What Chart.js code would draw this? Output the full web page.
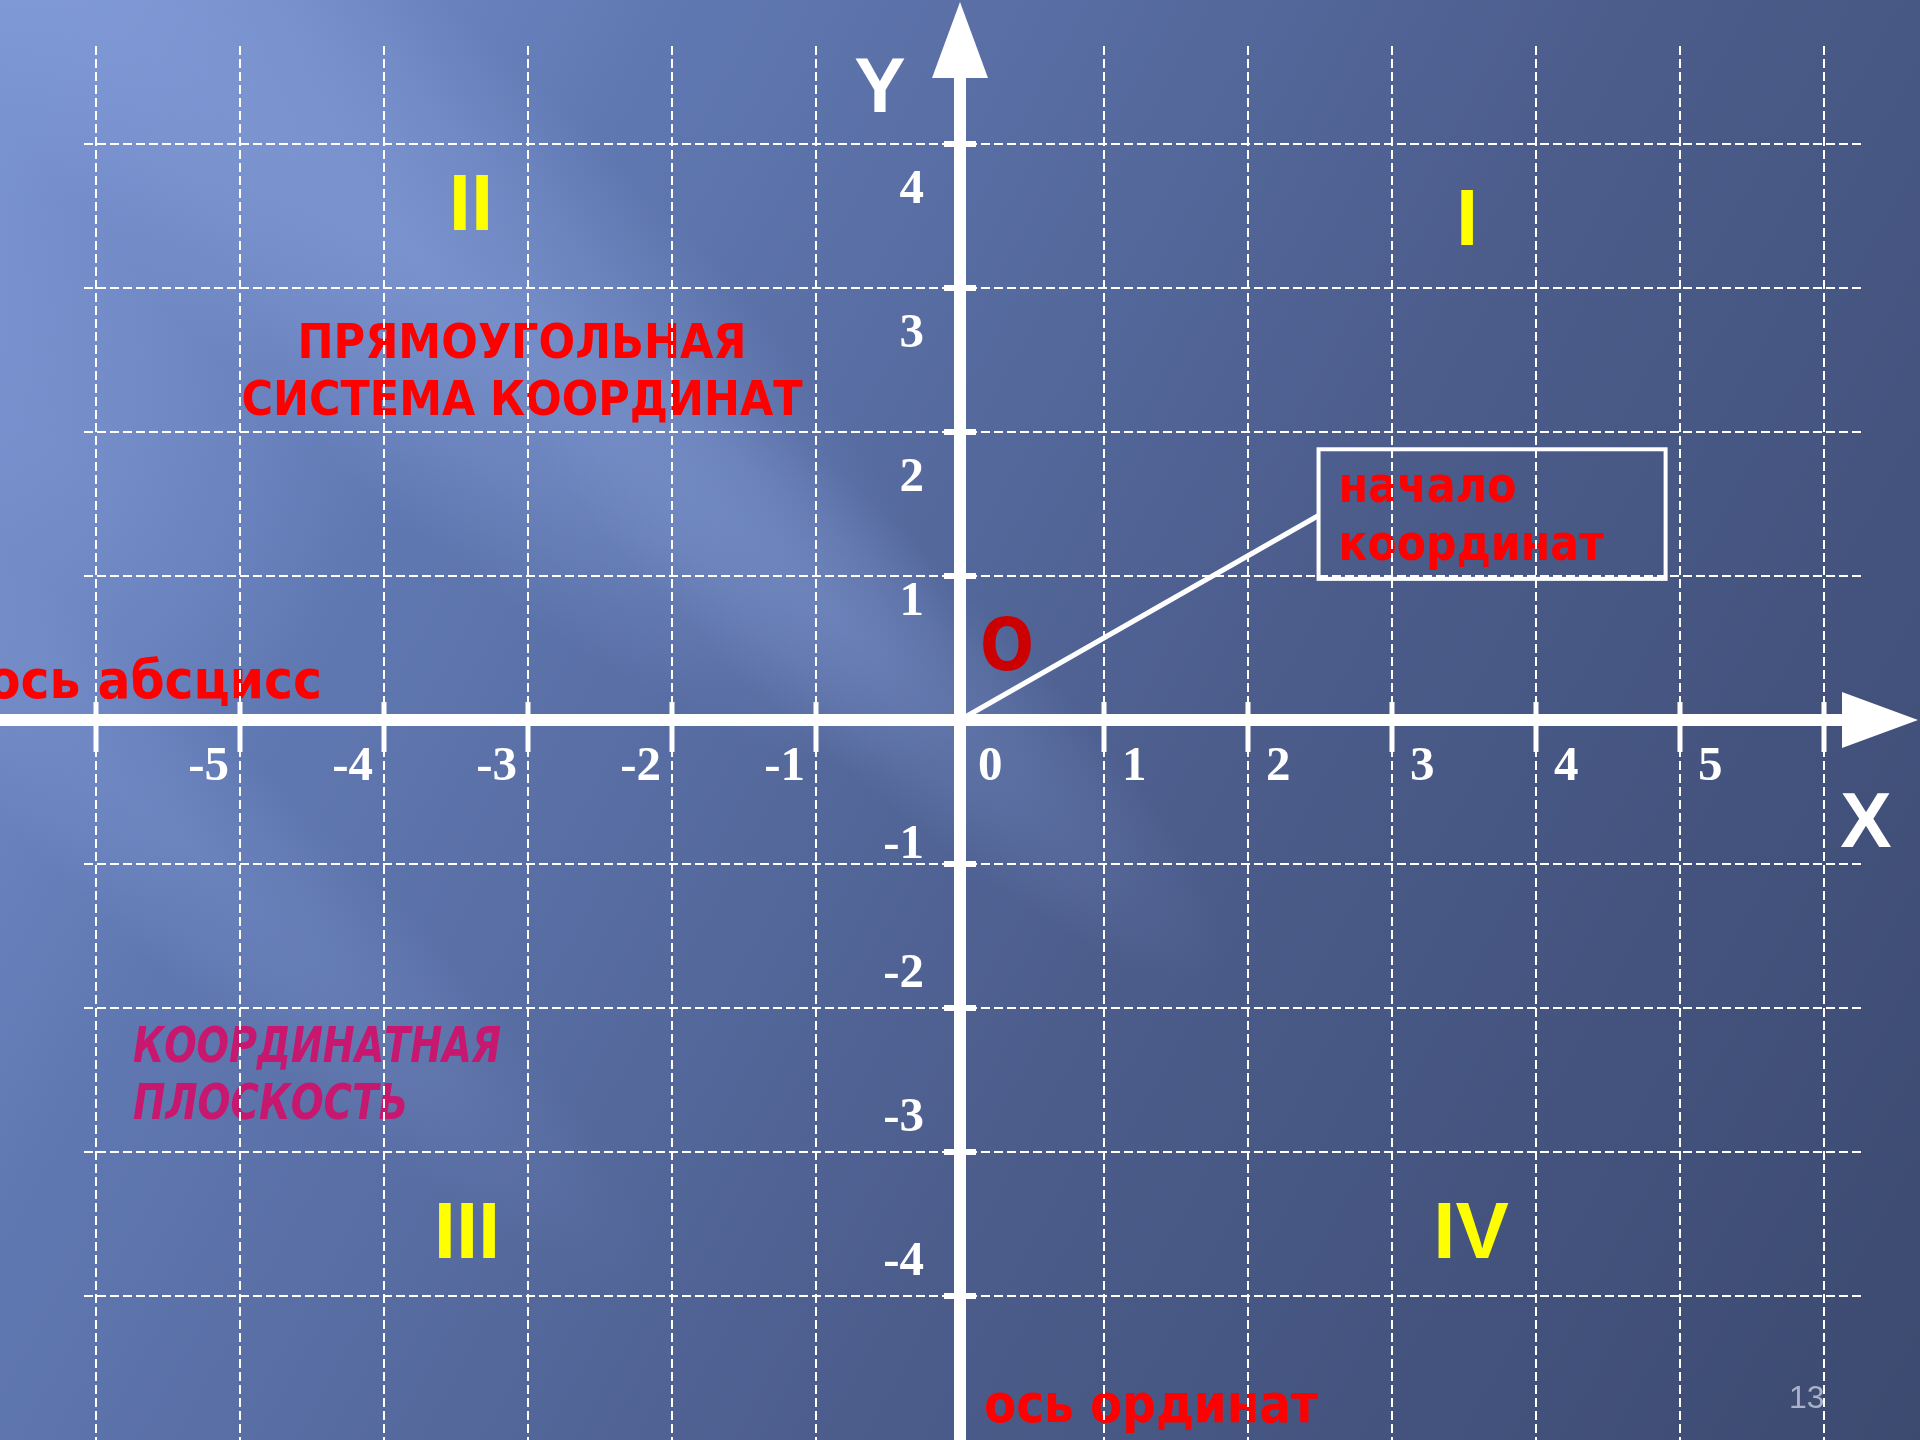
<!DOCTYPE html>
<html>
<head>
<meta charset="utf-8">
<script src="https://cdn.jsdelivr.net/npm/chart.js@4.4.1/dist/chart.umd.min.js"></script>
<style>
html,body{margin:0;padding:0;overflow:hidden;background:#4f6396;}
#wrap{width:1920px;height:1440px;position:relative;}
canvas{display:block;}
</style>
</head>
<body>
<div id="wrap"><canvas id="c" width="1920" height="1440"></canvas></div>
<script>
// ---------- DATA ----------
const xGridValues = [-6, -5, -4, -3, -2, -1, 0, 1, 2, 3, 4, 5, 6];
const yGridValues = [-4, -3, -2, -1, 0, 1, 2, 3, 4];
const xLabelValues = [-5, -4, -3, -2, -1, 0, 1, 2, 3, 4, 5];
const xTickLabels = ['-5', '-4', '-3', '-2', '-1', '0', '1', '2', '3', '4', '5'];
const yLabelValues = [4, 3, 2, 1, -1, -2, -3, -4];
const yTickLabels = ['4', '3', '2', '1', '-1', '-2', '-3', '-4'];
const quadrantNames = ['I', 'II', 'III', 'IV'];
const pointerX = [0, 2.49];
const pointerY = [0, 1.42];
const calloutBoxX = [2.49, 4.9];
const calloutBoxY = [0.98, 1.88];
const titleLines = ['ПРЯМОУГОЛЬНАЯ', 'СИСТЕМА КООРДИНАТ'];
const planeLines = ['КООРДИНАТНАЯ', 'ПЛОСКОСТЬ'];
const originLines = ['начало', 'координат'];
const xAxisName = 'ось абсцисс';
const yAxisName = 'ось ординат';
const slideNumber = '13';

// ---------- LAYOUT ----------
const W = 1920, H = 1440;
const UNIT = 144;            // px per unit
const OX = 960, OY = 720;    // origin in px
const AREA = {left: 84, right: 1862, top: 46, bottom: 1440};
const XMIN = (AREA.left - OX) / UNIT, XMAX = (AREA.right - OX) / UNIT;
const YMAX = (OY - AREA.top) / UNIT, YMIN = (OY - AREA.bottom) / UNIT;
const SANS = '"Liberation Sans", Arial, sans-serif';
const HEAVY = '"DejaVu Sans", Verdana, sans-serif';
const SERIF = '"Liberation Serif", "Times New Roman", serif';

function glow(ctx, cx, cy, rx, ry, angle, color, alpha) {
  ctx.save();
  ctx.translate(cx, cy);
  ctx.rotate(angle);
  ctx.scale(rx, ry);
  const g = ctx.createRadialGradient(0, 0, 0, 0, 0, 1);
  g.addColorStop(0, `rgba(${color},${alpha})`);
  g.addColorStop(0.55, `rgba(${color},${alpha * 0.55})`);
  g.addColorStop(1, `rgba(${color},0)`);
  ctx.fillStyle = g;
  ctx.beginPath();
  ctx.arc(0, 0, 1, 0, Math.PI * 2);
  ctx.fill();
  ctx.restore();
}

const backgroundPlugin = {
  id: 'slideBackground',
  beforeDraw(chart) {
    const ctx = chart.ctx;
    const xs = chart.scales.x;
    ctx.save();
    const g = ctx.createLinearGradient(0, 0, 2082, 1145);
    g.addColorStop(0, '#7C96D4');
    g.addColorStop(0.25, '#6078B2');
    g.addColorStop(0.6, '#4C5D8C');
    g.addColorStop(1, '#3C4A70');
    ctx.fillStyle = g;
    ctx.fillRect(0, 0, W, H);
    const ang = 43 * Math.PI / 180;
    glow(ctx, 420, 260, 720, 210, ang, '150,176,236', 0.42);
    glow(ctx, 840, 620, 520, 110, ang, '150,175,235', 0.25);
    glow(ctx, 180, 840, 640, 110, ang, '150,175,235', 0.2);
    glow(ctx, 60, 460, 300, 240, ang, '150,175,235', 0.18);

    // texts under the grid
    ctx.textBaseline = 'alphabetic';
    // title
    ctx.fillStyle = '#FF0000';
    ctx.font = 'bold 48px ' + HEAVY;
    ctx.textAlign = 'center';
    ctx.fillText(titleLines[0], 522, 358, 449);
    ctx.fillText(titleLines[1], 522, 415, 561);
    // origin callout text
    ctx.font = 'bold 50px ' + HEAVY;
    ctx.textAlign = 'left';
    const bx = xs.getPixelForValue(calloutBoxX[0]);
    ctx.fillText(originLines[0], bx + 20, 502, 178);
    ctx.fillText(originLines[1], bx + 20, 560, 265);
    // axis names
    ctx.font = 'bold 53px ' + HEAVY;
    ctx.textAlign = 'right';
    ctx.fillText(xAxisName, 322, 698, 335);
    ctx.textAlign = 'left';
    ctx.fillText(yAxisName, 984, 1422, 334);
    // plane
    ctx.fillStyle = '#C8176F';
    ctx.font = 'italic bold 49px ' + HEAVY;
    ctx.fillText(planeLines[0], 133, 1062, 368);
    ctx.fillText(planeLines[1], 133, 1119, 275);
    // quadrants
    ctx.fillStyle = '#FFFF00';
    ctx.font = 'bold 80px ' + SANS;
    ctx.textAlign = 'center';
    ctx.fillText(quadrantNames[0], 1467, 245);
    ctx.fillText(quadrantNames[1], 471, 230);
    ctx.fillText(quadrantNames[2], 467, 1258);
    ctx.fillText(quadrantNames[3], 1471, 1258);
    // O
    ctx.fillStyle = '#CC0000';
    ctx.font = 'bold 73px ' + HEAVY;
    ctx.fillText('O', 1007, 670, 54);
    // slide number
    ctx.fillStyle = '#AAB2C8';
    ctx.font = '32px ' + SANS;
    ctx.textAlign = 'left';
    ctx.fillText(slideNumber, 1789, 1408);
    ctx.restore();
  }
};

const axesPlugin = {
  id: 'axesOverlay',
  afterDraw(chart) {
    const ctx = chart.ctx;
    const xs = chart.scales.x, ys = chart.scales.y;
    const ox = xs.getPixelForValue(0), oy = ys.getPixelForValue(0);
    ctx.save();
    ctx.fillStyle = '#FFFFFF';
    // x axis
    const xHeadBase = 1842, xTip = 1918;
    ctx.fillRect(0, oy - 6, xHeadBase + 2, 12);
    ctx.beginPath();
    ctx.moveTo(xHeadBase, oy - 28);
    ctx.lineTo(xTip, oy);
    ctx.lineTo(xHeadBase, oy + 28);
    ctx.closePath();
    ctx.fill();
    // y axis
    const yHeadBase = 78, yTip = 2;
    ctx.fillRect(ox - 6, yHeadBase - 2, 12, H - yHeadBase + 2);
    ctx.beginPath();
    ctx.moveTo(ox - 28, yHeadBase);
    ctx.lineTo(ox, yTip);
    ctx.lineTo(ox + 28, yHeadBase);
    ctx.closePath();
    ctx.fill();
    // tick marks
    xGridValues.forEach(v => {
      if (v === 0) return;
      const px = xs.getPixelForValue(v);
      ctx.fillRect(px - 2.5, oy - 18, 5, 50);
    });
    yGridValues.forEach(v => {
      if (v === 0) return;
      const py = ys.getPixelForValue(v);
      ctx.fillRect(ox - 16, py - 3, 32, 6);
    });
    // tick labels
    ctx.font = 'bold 49px ' + SERIF;
    ctx.textBaseline = 'alphabetic';
    xLabelValues.forEach((v, i) => {
      const px = xs.getPixelForValue(v);
      if (v < 0) { ctx.textAlign = 'right'; ctx.fillText(xTickLabels[i], px - 11, oy + 60); }
      else { ctx.textAlign = 'left'; ctx.fillText(xTickLabels[i], px + 18, oy + 60); }
    });
    ctx.textAlign = 'right';
    yLabelValues.forEach((v, i) => {
      const py = ys.getPixelForValue(v);
      let off;
      if (v > 1) off = 59; else if (v === 1) off = 39; else if (v === -1) off = -6; else off = -21;
      ctx.fillText(yTickLabels[i], ox - 36, py + off);
    });
    // axis letters
    ctx.font = 'bold 77px ' + SANS;
    ctx.textAlign = 'center';
    ctx.fillText('Y', 880, 112);
    ctx.fillText('X', 1866, 847);
    // callout box
    const x0 = xs.getPixelForValue(calloutBoxX[0]), x1 = xs.getPixelForValue(calloutBoxX[1]);
    const y0 = ys.getPixelForValue(calloutBoxY[1]), y1 = ys.getPixelForValue(calloutBoxY[0]);
    ctx.strokeStyle = '#FFFFFF';
    ctx.lineWidth = 4;
    ctx.strokeRect(x0, y0, x1 - x0, y1 - y0);
    ctx.restore();
  }
};

const tickSetter = (values) => (scale) => { scale.ticks = values.map(v => ({value: v})); };

new Chart(document.getElementById('c'), {
  type: 'scatter',
  data: {
    datasets: [{
      data: pointerX.map((x, i) => ({x, y: pointerY[i]})),
      showLine: true,
      borderColor: '#FFFFFF',
      borderWidth: 5,
      pointRadius: 0,
      fill: false
    }]
  },
  options: {
    responsive: false,
    devicePixelRatio: 1,
    animation: false,
    events: [],
    layout: {padding: {left: AREA.left, right: W - AREA.right, top: AREA.top, bottom: H - AREA.bottom}},
    plugins: {legend: {display: false}, tooltip: {enabled: false}, title: {display: false}},
    scales: {
      x: {
        type: 'linear', min: XMIN, max: XMAX,
        afterBuildTicks: tickSetter(xGridValues),
        ticks: {display: false},
        grid: {color: '#FFFFFF', lineWidth: 2, drawTicks: false, borderDash: [9, 4]},
        border: {display: false, dash: [9, 4]}
      },
      y: {
        type: 'linear', min: YMIN, max: YMAX,
        afterBuildTicks: tickSetter(yGridValues),
        ticks: {display: false},
        grid: {color: '#FFFFFF', lineWidth: 2, drawTicks: false, borderDash: [9, 4]},
        border: {display: false, dash: [9, 4]}
      }
    }
  },
  plugins: [backgroundPlugin, axesPlugin]
});
</script>
</body>
</html>
